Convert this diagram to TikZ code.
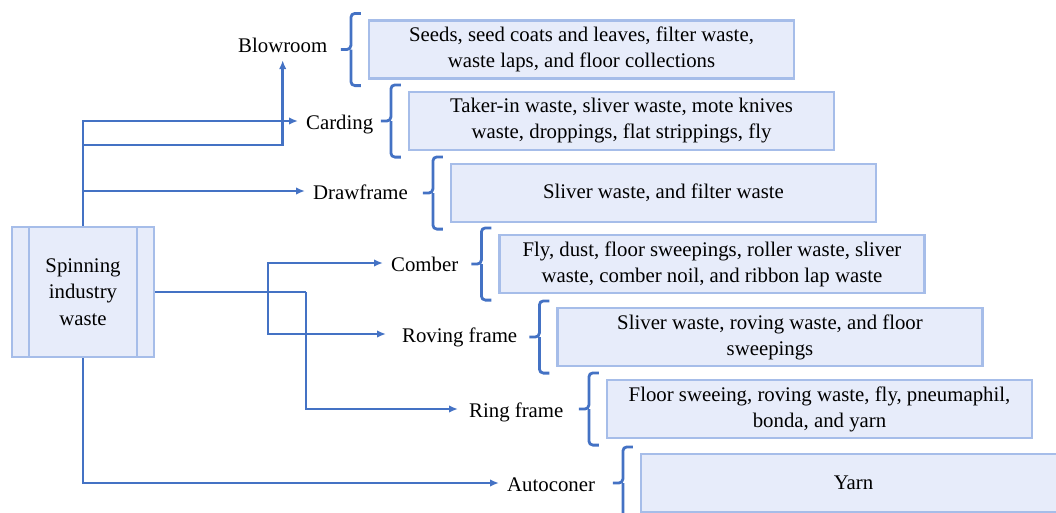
\documentclass[tikz,border=0pt]{standalone}
\usepackage{fontspec}
\setmainfont{Liberation Serif}
\usetikzlibrary{arrows.meta, positioning, calc}

\definecolor{flowblue}{RGB}{68,114,196}
\definecolor{boxfill}{RGB}{231,236,250}
\definecolor{boxline}{RGB}{166,189,233}

% bracket on the left side of a waste box
\newcommand{\wastebrace}[1]{%
  \draw[bracket] ([xshift=-7pt,yshift=6pt]#1.north west) -| ([xshift=-17pt]#1.west) -- ++(-10pt,0pt);
  \draw[bracket] ([xshift=-7pt,yshift=-6pt]#1.south west) -| ([xshift=-17pt]#1.west);
}

\begin{document}
\begin{tikzpicture}[
  x=1pt, y=-1pt,
  >={Latex[length=9pt,width=7.5pt]},
  wastebox/.style={draw=boxline, line width=2.2pt, fill=boxfill, minimum width=425pt, minimum height=58pt, inner sep=2pt, align=center, font=\fontsize{20.8}{26}\selectfont},
  srcbox/.style={draw=boxline, line width=2.2pt, fill=boxfill, minimum width=142pt, minimum height=130pt, inner sep=2pt, align=center, font=\fontsize{20.8}{26.5}\selectfont},
  stagelabel/.style={anchor=west, inner sep=0pt, text height=16pt, text depth=0pt, font=\fontsize{20.8}{26}\selectfont},
  trunk/.style={draw=flowblue, line width=2.8pt},
  flow/.style={->, draw=flowblue, line width=2.8pt, shorten >=8pt},
  bracket/.style={draw=flowblue, line width=2.8pt, rounded corners=4pt}
]
\useasboundingbox (0,0) rectangle (1056,512);

% Source
\node[srcbox] (src) at (83,292) {Spinning\\industry\\waste};
\draw[draw=boxline, line width=2.2pt] ([xshift=18pt]src.north west) -- ([xshift=18pt]src.south west);
\draw[draw=boxline, line width=2.2pt] ([xshift=-18pt]src.north east) -- ([xshift=-18pt]src.south east);

% Stages
\node[stagelabel] (Blow)  at (238,44)  {Blowroom};
\node[stagelabel] (Card)  at (306,121) {Carding};
\node[stagelabel] (Draw)  at (313,191) {Drawframe};
\node[stagelabel] (Comb)  at (391,263) {Comber};
\node[stagelabel] (Rov)   at (402,334) {Roving frame};
\node[stagelabel] (Ring)  at (469,409) {Ring frame};
\node[stagelabel] (Auto)  at (507,483) {Autoconer};

% Waste boxes
\node[wastebox] (wBlow) at (581.5,49.5) {Seeds, seed coats and leaves, filter waste,\\waste laps, and floor collections};
\node[wastebox] (wCard) at (621.5,121)  {Taker-in waste, sliver waste, mote knives\\waste, droppings, flat strippings, fly};
\node[wastebox] (wDraw) at (663.5,193)  {Sliver waste, and filter waste};
\node[wastebox] (wComb) at (712,264)    {Fly, dust, floor sweepings, roller waste, sliver\\waste, comber noil, and ribbon lap waste};
\node[wastebox] (wRov)  at (770,337)    {Sliver waste, roving waste, and floor\\sweepings};
\node[wastebox] (wRing) at (819.5,409)  {Floor sweeing, roving waste, fly, pneumaphil,\\bonda, and yarn};
\node[wastebox] (wAuto) at (853.5,483)  {Yarn};

% Brackets
\foreach \w in {wBlow, wCard, wDraw, wComb, wRov, wRing, wAuto}
  {\wastebrace{\w}}

% Flows, upper branch
\coordinate (tBlow) at (83,145);
\coordinate (tDraw) at (83,191);
\draw[flow] (src.north) |- (Card.west);
\draw[flow] (tBlow) -| (Blow.south);
\draw[flow] (tDraw) -- (Draw.west);

% Flows, right branch
\coordinate (hub)  at (268,292);
\coordinate (hub2) at (306,292);
\draw[trunk] (src.east) -- (hub2);
\draw[flow] (hub) |- (Comb.west);
\draw[flow, shorten >=16pt] (hub) |- (Rov.west);
\draw[flow, shorten >=11pt] (hub2) |- (Ring.west);

% Flow, lower branch
\draw[flow] (src.south) |- (Auto.west);
\end{tikzpicture}
\end{document}
